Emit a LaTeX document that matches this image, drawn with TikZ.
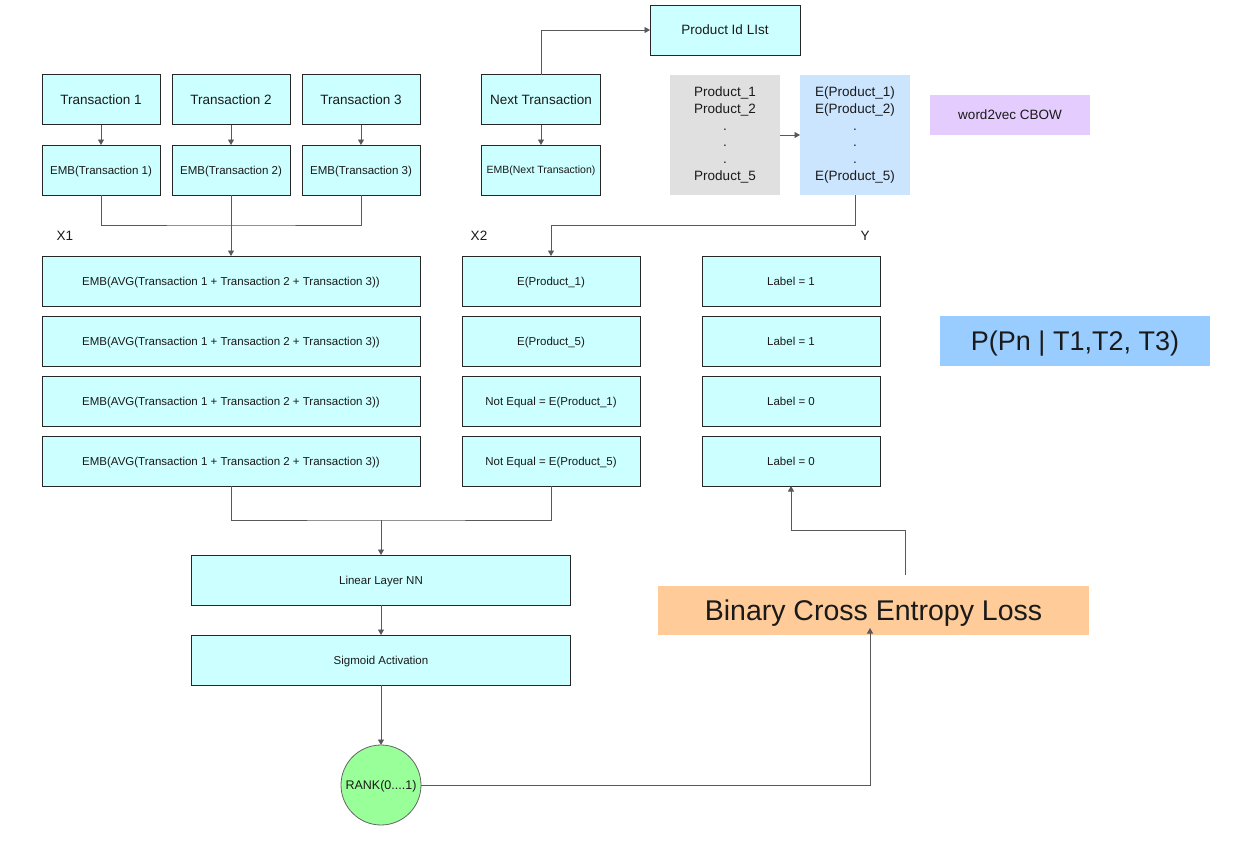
\documentclass[tikz,border=0pt]{standalone}
\usepackage{fontspec}
\setmainfont{Liberation Sans}
\usetikzlibrary{arrows.meta}
\definecolor{cyanbox}{HTML}{CCFFFF}
\definecolor{greybox}{HTML}{E0E0E0}
\definecolor{bluebox}{HTML}{CCE5FF}
\definecolor{purplebox}{HTML}{E5CCFF}
\definecolor{pbox}{HTML}{99CCFF}
\definecolor{orangebox}{HTML}{FFCC99}
\definecolor{greencirc}{HTML}{99FF99}
\definecolor{conn}{HTML}{595959}
\definecolor{txt}{HTML}{1A1A1A}
\tikzset{
  cbox/.style={draw=black!85, line width=0.8pt, fill=cyanbox, inner sep=0pt, outer sep=0pt, text=txt, align=center, text depth=0pt},
  flat/.style={draw=none, inner sep=0pt, outer sep=0pt, text=txt, align=center},
  big/.style={font=\fontsize{13.5}{16.8}\selectfont},
  med/.style={font=\fontsize{11.5}{14}\selectfont},
  conline/.style={draw=conn, line width=0.8pt},
  arr/.style={conline, -{Triangle[length=5.5pt,width=6pt]}},
}
\begin{document}
\begin{tikzpicture}[x=1pt,y=-1pt]
\useasboundingbox[fill=white] (0,0) rectangle (1240,844);
% top row
\node[cbox,big,minimum width=118pt,minimum height=50pt] (t1) at (101,99.5) {Transaction 1};
\node[cbox,big,minimum width=118pt,minimum height=50pt] (t2) at (231,99.5) {Transaction 2};
\node[cbox,big,minimum width=118pt,minimum height=50pt] (t3) at (361,99.5) {Transaction 3};
\node[cbox,med,minimum width=118pt,minimum height=50pt] (e1) at (101,170) {EMB(Transaction 1)};
\node[cbox,med,minimum width=118pt,minimum height=50pt] (e2) at (231,170) {EMB(Transaction 2)};
\node[cbox,med,minimum width=118pt,minimum height=50pt] (e3) at (361,170) {EMB(Transaction 3)};
\node[cbox,big,minimum width=119pt,minimum height=50pt] (nt) at (541,99.5) {Next Transaction};
\node[cbox,font=\fontsize{10.5}{12}\selectfont,minimum width=119pt,minimum height=50pt] (ent) at (541,170) {EMB(Next Transaction)};
\node[cbox,big,minimum width=150pt,minimum height=50pt] (pid) at (725,30) {Product Id LIst};
\node[flat,big,fill=greybox,minimum width=110pt,minimum height=120pt] (grey) at (725,135) {Product\_1\\Product\_2\\.\\.\\.\\Product\_5};
\node[flat,big,fill=bluebox,minimum width=110pt,minimum height=120pt] (blue) at (855,135) {E(Product\_1)\\E(Product\_2)\\.\\.\\.\\E(Product\_5)};
\node[flat,big,fill=purplebox,minimum width=160pt,minimum height=40pt,text depth=0pt] (w2v) at (1010,115) {word2vec CBOW};
% labels
\node[flat,big] (x1) at (65,236) {X1};
\node[flat,big] (x2) at (479,236) {X2};
\node[flat,big] (ylab) at (865,236) {Y};
% columns
\foreach \i/\yy in {1/281,2/341,3/401,4/461}{
  \node[cbox,med,minimum width=378pt,minimum height=50pt] (a\i) at (231,\yy) {EMB(AVG(Transaction 1 + Transaction 2 + Transaction 3))};
}
\node[cbox,med,minimum width=178pt,minimum height=50pt] (b1) at (551,281) {E(Product\_1)};
\node[cbox,med,minimum width=178pt,minimum height=50pt] (b2) at (551,341) {E(Product\_5)};
\node[cbox,med,minimum width=178pt,minimum height=50pt] (b3) at (551,401) {Not Equal = E(Product\_1)};
\node[cbox,med,minimum width=178pt,minimum height=50pt] (b4) at (551,461) {Not Equal = E(Product\_5)};
\node[cbox,med,minimum width=178pt,minimum height=50pt] (c1) at (791,281) {Label = 1};
\node[cbox,med,minimum width=178pt,minimum height=50pt] (c2) at (791,341) {Label = 1};
\node[cbox,med,minimum width=178pt,minimum height=50pt] (c3) at (791,401) {Label = 0};
\node[cbox,med,minimum width=178pt,minimum height=50pt] (c4) at (791,461) {Label = 0};
\node[flat,font=\fontsize{27}{30}\selectfont,fill=pbox,minimum width=270pt,minimum height=50pt,text depth=0pt] (pp) at (1075,341) {P(Pn | T1,T2, T3)};
% bottom
\node[cbox,med,minimum width=379pt,minimum height=50pt] (lin) at (381,580) {Linear Layer NN};
\node[cbox,med,minimum width=379pt,minimum height=50pt] (sig) at (381,660) {Sigmoid Activation};
\node[circle,draw=black!60,line width=0.8pt,fill=greencirc,inner sep=0pt,outer sep=0pt,minimum size=80pt,text=txt,text depth=0pt,font=\fontsize{12.5}{14}\selectfont] (rank) at (381,785) {RANK(0....1)};
\node[flat,font=\fontsize{28.5}{32}\selectfont,fill=orangebox,minimum width=431pt,minimum height=49pt,text depth=0pt] (bce) at (873.5,610.5) {Binary Cross Entropy Loss};
% coordinates
\coordinate (j1) at (231,225);
\coordinate (j2) at (855,225);
\coordinate (j3) at (381,520);
\coordinate (bcein) at (870,628);
\coordinate (bceout) at (905,575);
\coordinate (j4) at (905,530);
% connectors
\draw[arr] (t1) -- (e1);
\draw[arr] (t2) -- (e2);
\draw[arr] (t3) -- (e3);
\draw[arr] (nt) -- (ent);
\draw[conline] (e1.south) |- (j1) -| (e3.south);
\draw[arr] (e2.south) -- (a1.north);
\draw[arr] (nt.north) |- (pid.west);
\draw[arr] (grey.east) -- (blue.west);
\draw[arr] (blue.south) -- (j2) -| (b1.north);
\draw[conline] (a4.south) |- (j3) -| (b4.south);
\draw[arr] (j3) -- (lin.north);
\draw[arr] (lin) -- (sig);
\draw[arr] (sig) -- (rank);
\draw[arr] (rank.east) -| (bcein);
\draw[arr] (bceout) -- (j4) -| (c4.south);
\end{tikzpicture}
\end{document}
